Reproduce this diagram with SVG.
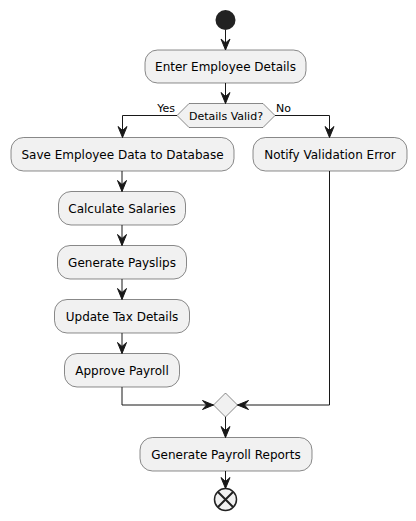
<svg xmlns="http://www.w3.org/2000/svg" width="416" height="521" viewBox="0 0 416 521">
<defs>
<style>
.box{fill:#F1F1F1;stroke:#181818;stroke-width:0.5}
.t{font-family:"DejaVu Sans",sans-serif;font-size:12px;fill:#000;text-anchor:middle}
.s{font-family:"DejaVu Sans",sans-serif;font-size:11px;fill:#000}
.ln{fill:none;stroke:#181818;stroke-width:1}
</style>
<marker id="arr" viewBox="-1 -1 13 12" refX="11" refY="5" markerWidth="13" markerHeight="12" markerUnits="userSpaceOnUse" orient="auto">
<polygon points="0,0.5 11,5 0,9.5 4,5" fill="#181818" stroke="#181818" stroke-width="1"/>
</marker>
</defs>
<rect width="416" height="521" fill="#FFFFFF"/>
<g id="start"><circle cx="225.5" cy="20" r="10" fill="#222222"/></g>
<g id="enter"><rect class="box" x="145" y="50" width="161" height="33" rx="12.5"/><text class="t" x="225.5" y="71">Enter Employee Details</text></g>
<g id="valid"><polygon class="box" points="177,115.5 189,103.5 263,103.5 275,115.5 263,127.5 189,127.5"/><text class="s" x="226" y="119.5" text-anchor="middle">Details Valid?</text></g>
<g id="save"><rect class="box" x="11" y="137.5" width="223" height="33.5" rx="12.5"/><text class="t" x="122.5" y="158.5">Save Employee Data to Database</text></g>
<g id="notify"><rect class="box" x="253" y="137.5" width="154" height="33.5" rx="12.5"/><text class="t" x="330" y="158.5">Notify Validation Error</text></g>
<g id="calc"><rect class="box" x="58.5" y="191.5" width="127" height="33.5" rx="12.5"/><text class="t" x="122" y="212.5">Calculate Salaries</text></g>
<g id="payslips"><rect class="box" x="57.5" y="245.5" width="129" height="33.5" rx="12.5"/><text class="t" x="122" y="266.5">Generate Payslips</text></g>
<g id="tax"><rect class="box" x="54.5" y="299.5" width="135" height="33.5" rx="12.5"/><text class="t" x="122" y="320.5">Update Tax Details</text></g>
<g id="approve"><rect class="box" x="64.5" y="353.5" width="115" height="33.5" rx="12.5"/><text class="t" x="122" y="374.5">Approve Payroll</text></g>
<g id="merge"><polygon class="box" points="225.5,393 237.5,405 225.5,417 213.5,405"/></g>
<g id="reports"><rect class="box" x="140" y="437.5" width="172" height="33.5" rx="12.5"/><text class="t" x="226" y="458.5">Generate Payroll Reports</text></g>
<g id="end"><circle cx="225.5" cy="499.5" r="11" fill="#F1F1F1" stroke="#222222" stroke-width="1.5"/><path d="M218,492 L233,507 M233,492 L218,507" stroke="#222222" stroke-width="2" fill="none"/></g>
<g id="connectors">
<path class="ln" marker-end="url(#arr)" d="M225.5,30 L225.5,50"/>
<path class="ln" marker-end="url(#arr)" d="M225.5,83 L225.5,103.5"/>
<path class="ln" marker-end="url(#arr)" d="M177,115.5 L122.5,115.5 L122.5,137.5"/>
<path class="ln" marker-end="url(#arr)" d="M275,115.5 L329.5,115.5 L329.5,137.5"/>
<text class="s" x="175" y="112" text-anchor="end">Yes</text>
<text class="s" x="276" y="112">No</text>
<path class="ln" marker-end="url(#arr)" d="M122,171 L122,191.5"/>
<path class="ln" marker-end="url(#arr)" d="M122,225 L122,245.5"/>
<path class="ln" marker-end="url(#arr)" d="M122,279 L122,299.5"/>
<path class="ln" marker-end="url(#arr)" d="M122,333 L122,353.5"/>
<path class="ln" marker-end="url(#arr)" d="M122,387 L122,405 L213.5,405"/>
<path class="ln" marker-end="url(#arr)" d="M329.5,171 L329.5,405 L237.5,405"/>
<path class="ln" marker-end="url(#arr)" d="M225.5,417 L225.5,437.5"/>
<path class="ln" marker-end="url(#arr)" d="M225.5,471 L225.5,488.5"/>
</g>
</svg>
